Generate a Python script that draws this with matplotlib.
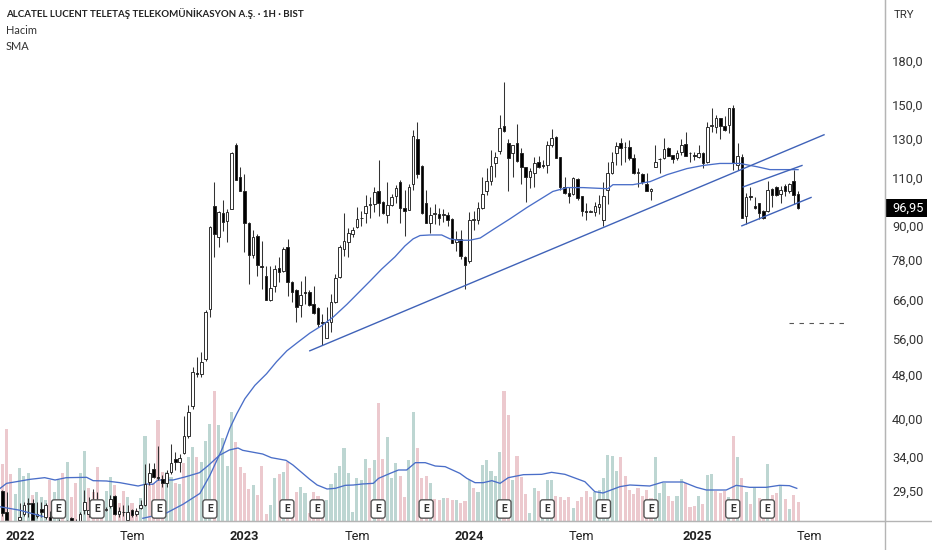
import matplotlib
matplotlib.use("Agg")
import matplotlib.pyplot as plt
from matplotlib.patches import Rectangle
from matplotlib.ticker import NullLocator

plt.rcParams["font.family"] = ["Roboto", "DejaVu Sans"]

# weekly candles, TRY
opens = [29.5,27.0,25.6,25.5,26.1,26.8,27.9,28.0,26.5,27.4,26.4,26.4,25.4,25.7,25.6,25.8,26.3,25.8,26.0,27.2,
         26.8,28.3,28.0,27.2,27.2,27.7,28.9,26.8,27.0,26.1,27.2,26.8,27.5,27.8,30.6,32.4,31.3,31.0,30.5,32.0,
         33.7,33.3,34.6,37.2,42.2,48.5,48.2,51.4,63.4,98.0,86.0,94.8,92.0,96.8,126.5,110.7,104.0,91.2,79.5,86.4,
         75.9,72.8,65.8,69.8,75.3,74.4,82.5,71.0,68.6,64.6,68.1,68.0,64.7,63.6,60.0,56.2,60.0,65.3,72.5,81.8,
         84.0,86.8,89.4,93.0,94.8,98.2,98.5,104.0,99.6,94.0,98.2,102.2,108.4,97.2,96.0,107.2,129.8,115.9,98.9,91.2,
         94.6,94.4,94.2,94.0,92.8,84.0,85.0,78.9,77.5,92.4,92.4,97.2,104.0,108.8,117.3,123.4,137.2,127.6,122.4,127.6,
         122.4,115.4,110.7,112.6,117.8,116.0,116.4,126.5,131.0,120.3,106.0,103.5,103.0,109.8,102.0,95.8,95.4,95.2,97.6,92.4,
         104.8,112.6,122.4,127.6,125.3,125.5,119.8,112.6,112.0,107.5,104.0,115.4,119.3,119.8,125.0,121.3,119.8,122.9,127.0,122.4,
         121.0,120.3,122.4,117.8,137.2,136.6,141.6,137.2,137.8,147.7,116.3,120.3,93.6,102.0,97.8,99.0,95.6,95.6,105.2,106.0,
         103.0,106.4,104.0,108.9,103.0]
highs = [29.6,29.4,25.8,25.7,28.1,28.2,28.6,28.5,28.2,28.2,28.1,27.1,25.8,26.2,25.8,26.1,26.4,26.2,27.0,29.6,
         28.8,29.7,29.4,27.8,27.6,29.0,29.0,27.6,27.8,27.8,27.3,27.5,28.4,33.0,33.2,33.2,35.6,31.6,32.2,36.0,
         34.7,34.4,40.4,42.3,49.7,51.8,53.0,63.1,89.8,108.0,95.6,100.5,96.4,122.9,127.6,115.4,112.0,91.6,88.6,86.8,
         84.3,76.0,76.0,76.2,78.9,82.5,85.0,71.3,68.9,71.3,72.8,68.6,69.8,63.9,62.1,63.9,67.7,73.4,82.9,94.8,
         89.0,89.4,97.6,95.6,102.6,101.4,106.0,118.8,100.0,108.4,103.0,107.0,109.3,104.8,107.5,134.8,139.4,116.3,104.8,97.6,
         98.5,97.2,96.8,95.2,93.2,87.9,88.6,79.2,95.2,95.6,99.6,110.7,114.9,123.9,122.9,143.4,164.8,129.8,126.5,138.3,
         125.0,115.4,114.9,120.3,120.8,118.8,128.6,135.3,131.5,120.3,110.7,106.0,110.7,110.2,102.0,99.2,96.0,99.6,102.6,108.4,
         117.8,122.9,127.9,130.3,127.9,129.2,121.7,114.9,112.6,112.6,105.4,126.5,119.8,130.3,125.3,121.3,123.9,129.8,133.6,122.9,
         122.9,126.5,122.9,139.3,147.7,143.4,141.6,142.8,147.7,149.9,127.6,121.7,103.5,106.0,101.4,99.2,96.0,108.9,105.7,106.4,
         106.4,107.5,107.6,114.0,104.0]
lows = [26.6,26.0,25.4,25.3,26.0,26.5,26.4,26.0,26.3,26.4,26.2,25.9,25.2,25.5,25.4,25.6,25.8,25.6,25.8,26.8,
        26.4,27.4,27.2,27.0,27.1,27.5,26.7,26.4,26.5,26.0,26.4,26.5,27.3,27.7,30.2,31.1,30.9,30.0,30.0,31.7,
        32.2,32.0,34.4,36.9,41.7,47.7,47.7,51.0,61.3,78.9,82.5,87.9,84.0,96.4,109.0,104.0,80.5,70.4,78.5,72.8,
        68.9,65.8,65.6,68.0,71.0,74.1,66.9,65.3,60.0,61.3,64.7,64.2,62.1,58.8,54.5,56.1,57.6,65.0,72.2,79.2,
        78.9,86.0,89.0,89.8,91.2,93.2,95.2,93.6,94.4,91.2,98.0,99.2,91.2,86.4,96.0,104.8,110.2,94.4,91.0,87.4,
        90.8,90.2,91.6,89.8,83.6,80.8,78.2,68.9,77.0,88.6,90.8,96.8,102.6,107.0,110.7,121.7,133.5,104.4,110.7,117.8,
        107.5,99.6,105.7,106.0,115.0,114.9,112.6,125.5,119.8,104.8,103.0,99.2,102.6,100.5,93.6,92.4,95.2,93.6,94.6,89.8,
        98.5,112.0,116.3,116.3,117.8,118.8,112.0,106.0,107.5,104.0,100.5,115.2,112.6,119.3,120.8,117.3,118.8,121.3,120.8,117.8,
        118.8,119.8,114.9,117.3,133.5,133.0,129.8,134.0,133.0,114.0,114.0,93.2,90.8,100.5,96.4,92.8,92.8,95.2,97.6,102.0,
        99.2,102.0,103.5,98.5,96.4]
closes = [26.9,26.1,25.5,25.6,26.4,27.8,28.0,26.1,26.8,27.0,27.8,26.0,25.6,25.9,25.5,25.9,26.0,26.0,26.8,28.2,
          27.2,28.0,27.6,27.4,27.4,28.5,26.8,27.1,27.0,27.0,26.7,27.1,27.8,30.4,31.8,31.3,31.1,30.5,31.8,33.2,
          33.3,33.9,37.2,41.1,48.7,48.3,50.8,62.6,89.4,86.8,95.2,91.6,95.2,122.4,109.3,104.0,91.2,79.5,86.0,76.2,
          75.6,65.8,69.2,75.0,74.1,81.5,71.0,68.0,63.9,67.2,67.8,64.4,62.3,59.5,59.8,60.0,65.3,72.2,82.5,84.3,
          87.2,88.6,92.8,93.2,98.0,98.5,103.7,99.2,94.8,98.2,101.4,105.7,97.2,95.6,106.0,131.4,112.0,94.8,91.2,94.0,
          95.0,93.2,94.6,92.4,83.9,85.0,79.2,76.2,92.4,92.8,97.2,103.0,108.8,115.9,120.3,136.0,134.3,119.8,126.5,118.3,
          115.4,110.7,113.5,117.3,115.4,115.7,126.5,130.3,119.8,106.0,103.5,102.0,110.2,101.0,95.6,95.4,95.8,98.0,98.5,102.2,
          112.6,117.8,126.0,125.0,125.6,119.8,112.6,112.8,108.4,104.4,105.2,117.8,119.0,124.4,120.8,119.3,122.4,126.5,120.8,122.2,
          120.8,122.4,117.3,136.6,137.5,141.6,137.2,134.8,147.7,117.3,120.8,93.2,101.4,101.8,97.2,94.8,93.2,104.8,102.6,102.6,
          104.8,104.0,107.5,102.6,96.95]

# relative volume, hidden axis. g = green bar, r = red bar
volume = [170,277,141,81,158,135,143,78,88,73,63,123,88,123,145,177,73,115,143,211,
          98,88,163,53,91,131,108,53,90,71,53,33,68,256,123,113,303,146,148,133,
          113,111,175,191,223,193,178,240,291,390,288,248,165,326,237,163,143,95,108,78,
          165,20,48,128,140,148,176,43,86,103,85,23,
          88,75,38,63,111,143,165,220,143,27,128,123,185,159,183,353,187,251,130,173,
          135,71,183,326,218,128,135,113,66,63,69,70,62,63,53,59,123,98,86,168,
          183,150,136,207,390,318,123,195,133,81,23,100,91,53,123,123,75,72,63,72,
          40,61,71,91,73,88,93,128,199,195,150,
          191,135,93,81,99,75,93,68,191,85,113,75,60,75,125,113,43,46,75,51,
          139,142,90,85,91,73,255,191,128,88,50,98,70,63,170,78,83,108,65,36,79,58]
vol_dir = ("rrrggggrgg" "grggrgrrgg" "rrrrggrrrg" "rrggrrrrgg" "rgrggrgggr" "ggggrrrrgr" "rrggrgrrrg" "gr"
           "rrrggggggg" "gggrgrrggg" "rrggrrrgrr" "grrgrrgrgg" "ggggrrgrrr" "ggrgggrrrr" "grrrrggggg" "g"
           "rrrrrrrrgg" "grrggrrrgr" "ggrrrgrgrg" "rgrrgrrgrg" "rr")

# long SMA on price
sma_x = [32.5,38,41.8,45.7,48,50.9,52.6,54.2,56.1,58.4,61.1,63.4,65.8,68.4,71.1,73.8,76.5,79.7,85,87.7,90.8,93.1,95,96.6,98.9,101.6,
         103.5,105.4,108.1,110.5,113.5,117.4,121.3,
         127.3,130.6,134.3,140,141.2,145.8,149.8,153.7,158.3,162,165.9,170.5,174.5,177.5,181.4,184]
sma_p = [26.3,26.9,27.9,29.2,31.5,35.3,38.4,40.8,43.5,46.0,48.3,50.8,53.2,55.2,57.3,59.1,61.3,64.7,71.3,75,79,82.7,85.2,86.4,86.6,86.6,
         85.2,84.7,84.7,85.5,88.6,92.7,97.2,
         104,105.7,105.7,105.2,107,107,108.4,111.6,114.5,116,117,117,115.4,114,114,114]
sma_early_x = [-0.5,4.1,7.1,9.4]
sma_early_p = [27.6,27.2,26.8,26.5]

# SMA on volume
vsma_x = [-0.5,1,3.3,6.4,9.8,12.2,14.8,19.5,21,24.1,27.2,31.4,33.3,34.8,36,39.5,42.5,45.6,47.5,50.2,52.5,54.5,55.6,60.2,62.2,65.6,67.2,71,
          72.8,75.1,77,79.3,81.2,83.2,85.8,87,89.7,91.6,93.5,95.5,97.8,100.1,102.4,105.8,107.4,109.3,111.2,113.2,115.1,117,120.5,124.7,127,130.1,134.7,137,138.9,142.8,
          145.1,149.7,152.8,157.4,160.5,162.8,167.4,169.7,172.8,176.6,179.7,182,183.7]
vsma_v = [98,113,118,125,130,123,130,131,121,120,115,105,111,110,123,123,133,145,165,197,213,219,212,201,190,182,168,126,
          108,96,98,107,108,111,113,128,143,153,153,175,175,165,163,143,128,115,115,121,113,130,139,140,146,140,118,88,84,103,
          108,105,117,117,101,93,93,107,101,101,107,106,98]

# drawn trend lines (bar index, price)
trend_main = ([71.1,190], [53.2,132])
trend_upper = ([171.3,184.9], [106,116])
trend_lower = ([171,187], [90,101.4])
target_x = [181.9,195]
target_p = [59.8,59.8]

earnings_idx = [13,21.9,36.2,48,65.8,72.8,86.9,98,116,126,139,150,168.9,176.9]

price_ticks = [180,150,130,110,90,78,66,56,48,40,34,29.5]
price_labels = ["180,0","150,0","130,0","110,0","90,00","78,00","66,00","56,00","48,00","40,00","34,00","29,50"]
time_ticks = [4.1,30,55.9,82,107.9,134,160.6,186.7]
time_labels = ["2022","Tem","2023","Tem","2024","Tem","2025","Tem"]
last_price = 96.95

LINE_BLUE = "#4a6ec8"
W, H = 932, 550

fig = plt.figure(figsize=(W/100, H/100), dpi=100)
ax_vol = fig.add_axes([0, 29/H, 885/W, 521/H])
ax = fig.add_axes([0, 29/H, 885/W, 521/H], sharex=ax_vol)
ax.patch.set_alpha(0)

# volume pane
x = list(range(len(volume)))
vol_colors = ["#ecc9ce" if d == "r" else "#bdd6d2" for d in vol_dir]
ax_vol.bar(x, volume, width=0.72, color=vol_colors, linewidth=0)
ax_vol.plot(vsma_x, vsma_v, color=LINE_BLUE, lw=0.95, zorder=5)
ax_vol.set_ylim(0, 1563)
ax_vol.set_xlim(-0.53, 204.1)
ax_vol.axis("off")

# candles
ax.set_yscale("log")
ax.set_ylim(26.0, 232.7)
for i in x:
    up = closes[i] >= opens[i]
    ax.vlines(i, lows[i], highs[i], color="#333333", lw=0.75, zorder=2)
    ax.bar(i, abs(closes[i]-opens[i]), bottom=min(opens[i], closes[i]), width=0.6,
           color="white" if up else "black", edgecolor="#222222", linewidth=0.65, zorder=3)

ax.plot(sma_x, sma_p, color=LINE_BLUE, lw=0.95, zorder=4)
ax.plot(sma_early_x, sma_early_p, color=LINE_BLUE, lw=0.95, zorder=4)
for tx, ty in [trend_main, trend_upper, trend_lower]:
    ax.plot(tx, ty, color="#3f62b8", lw=1.0, zorder=4)
ax.plot(target_x, target_p, color="#555555", lw=0.8, dashes=(4, 5), zorder=4)

# earnings badges
for e in earnings_idx:
    ax.annotate("E", xy=(e, 12/521), xycoords=ax.get_xaxis_transform(), ha="center", va="center",
                fontsize=7.5, fontweight="bold", color="#333333", zorder=6,
                bbox=dict(boxstyle="round,pad=0.4,rounding_size=0.25", fc="white", ec="#555555", lw=1.0))

# axes
ax.yaxis.tick_right()
ax.set_yticks(price_ticks, price_labels)
ax.yaxis.set_minor_locator(NullLocator())
ax.tick_params(axis="y", length=0, pad=5, labelsize=9.3, labelcolor="#333333")
ax.set_xticks(time_ticks, time_labels)
ax.tick_params(axis="x", length=0, pad=6.5, labelsize=9.2, labelcolor="#222222")
for lab in ax.get_xticklabels():
    if lab.get_text().isdigit():
        lab.set_fontweight("bold")
for s in ["top", "left"]:
    ax.spines[s].set_visible(False)
ax.spines["right"].set_color("#b4b4b4")
ax.spines["bottom"].set_color("#b4b4b4")

# pane frame lines run out to the figure edge
fig.add_artist(plt.Line2D([0, 1], [29/H, 29/H], color="#b4b4b4", lw=1.0))
fig.add_artist(plt.Line2D([884.5/W, 884.5/W], [0, 1], color="#b4b4b4", lw=1.0))

# last price tag
tag = Rectangle((885/W, 1-217/H), 42/W, 18/H, transform=fig.transFigure, fc="black", ec="none", zorder=8)
tag.set_clip_on(False)
ax.add_artist(tag)
ax.annotate("96,95", xy=(1, last_price), xycoords=ax.get_yaxis_transform(), xytext=(5, 0),
            textcoords="offset points", annotation_clip=False, ha="left", va="center",
            fontsize=9.3, color="white", zorder=9)

# header text
fig.text(6/W, 1-14/H, "ALCATEL LUCENT TELETAŞ TELEKOMÜNİKASYON A.Ş. · 1H · BIST", ha="left", va="center",
         fontsize=7.0, fontweight="bold", family="Lato", color="#222222")
fig.text(6/W, 1-30/H, "Hacim", ha="left", va="center", fontsize=7.9, family="Lato", color="#333333")
fig.text(6/W, 1-46/H, "SMA", ha="left", va="center", fontsize=7.9, family="Lato", color="#333333")
fig.text(903.5/W, 1-15/H, "TRY", ha="center", va="center", fontsize=8.2, color="#333333")

fig.savefig("out.png", dpi=100)
